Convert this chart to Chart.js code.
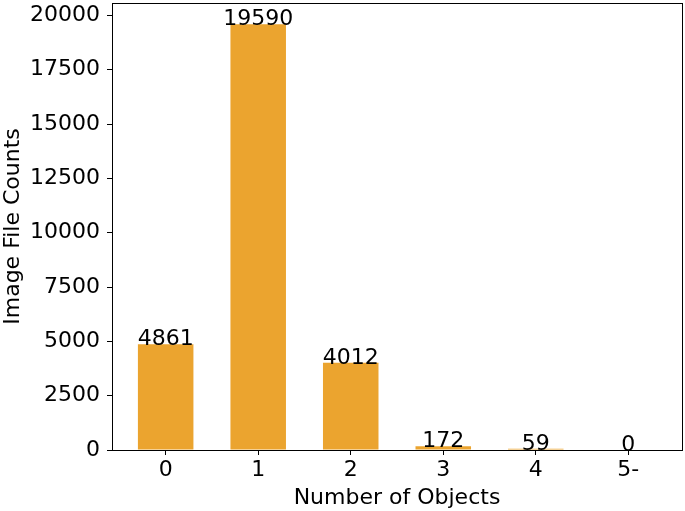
<!DOCTYPE html>
<html>
<head>
<meta charset="utf-8">
<script src="https://cdn.jsdelivr.net/npm/chart.js@4"></script>
<style>
  body { margin: 0; background: #fff; }
  #wrap { width: 685px; height: 511px; }
</style>
</head>
<body>
<div id="wrap"><canvas id="chart" width="685" height="511"></canvas></div>
<script>
// data
var categories = ['0', '1', '2', '3', '4', '5-'];
var counts = [4861, 19590, 4012, 172, 59, 0];
var yTicks = [0, 2500, 5000, 7500, 10000, 12500, 15000, 17500, 20000];

var barColor = '#eba42f';
var font = { family: 'DejaVu Sans', size: 22 };

// box around the plot area plus the count above each bar
var decorations = {
  id: 'decorations',
  afterDatasetsDraw: function(chart) {
    var c = chart.ctx, a = chart.chartArea;
    c.save();
    c.strokeStyle = '#000';
    c.lineWidth = 1;
    c.strokeRect(Math.round(a.left) + 0.5, Math.round(a.top) + 0.5,
      Math.round(a.right - a.left), Math.round(a.bottom - a.top));
    c.fillStyle = '#000';
    c.font = font.size + 'px ' + font.family;
    c.textAlign = 'center';
    c.textBaseline = 'alphabetic';
    chart.getDatasetMeta(0).data.forEach(function(bar, i) {
      c.fillText(String(counts[i]), bar.x, bar.y + 1);
    });
    c.restore();
  }
};

var ctx = document.getElementById('chart').getContext('2d');
var myBarChart = new Chart(ctx, {
  type: 'bar',
  data: {
    datasets: [{
      data: counts.map(function(v, i) { return { x: i, y: v }; }),
      backgroundColor: barColor,
      barPercentage: 0.6,
      categoryPercentage: 1,
    }]
  },
  options: {
    responsive: false,
    animation: false,
    layout: { padding: { top: 3, right: 3, left: 0, bottom: 0 } },
    plugins: {
      legend: { display: false },
      tooltip: { enabled: false }
    },
    scales: {
      x: {
        type: 'linear',
        min: -0.58,
        max: 5.58,
        offset: false,
        afterBuildTicks: function(scale) {
          scale.ticks = categories.map(function(_, i) { return { value: i }; });
        },
        afterFit: function(scale) {
          scale.height = 61;
          scale.paddingLeft = 0;
          scale.paddingRight = 0;
        },
        ticks: {
          color: '#000',
          font: font,
          padding: 2,
          maxRotation: 0,
          callback: function(v) { return categories[v]; }
        },
        grid: { offset: false, drawOnChartArea: false, drawTicks: true, tickLength: 5, color: '#000' },
        border: { display: true, color: '#000' },
        title: { display: true, text: 'Number of Objects', color: '#000', font: font, padding: 0 }
      },
      y: {
        min: 0,
        max: 20570,
        afterBuildTicks: function(scale) {
          scale.ticks = yTicks.map(function(v) { return { value: v }; });
        },
        afterFit: function(scale) {
          scale.width = 112;
          scale.paddingTop = 0;
          scale.paddingBottom = 0;
        },
        ticks: {
          color: '#000',
          font: font,
          padding: 7,
          callback: function(v) { return String(v); }
        },
        grid: { drawOnChartArea: false, drawTicks: true, tickLength: 5, color: '#000' },
        border: { display: true, color: '#000' },
        title: { display: true, text: 'Image File Counts', color: '#000', font: font, padding: 0 }
      }
    }
  },
  plugins: [decorations]
});
</script>
</body>
</html>
